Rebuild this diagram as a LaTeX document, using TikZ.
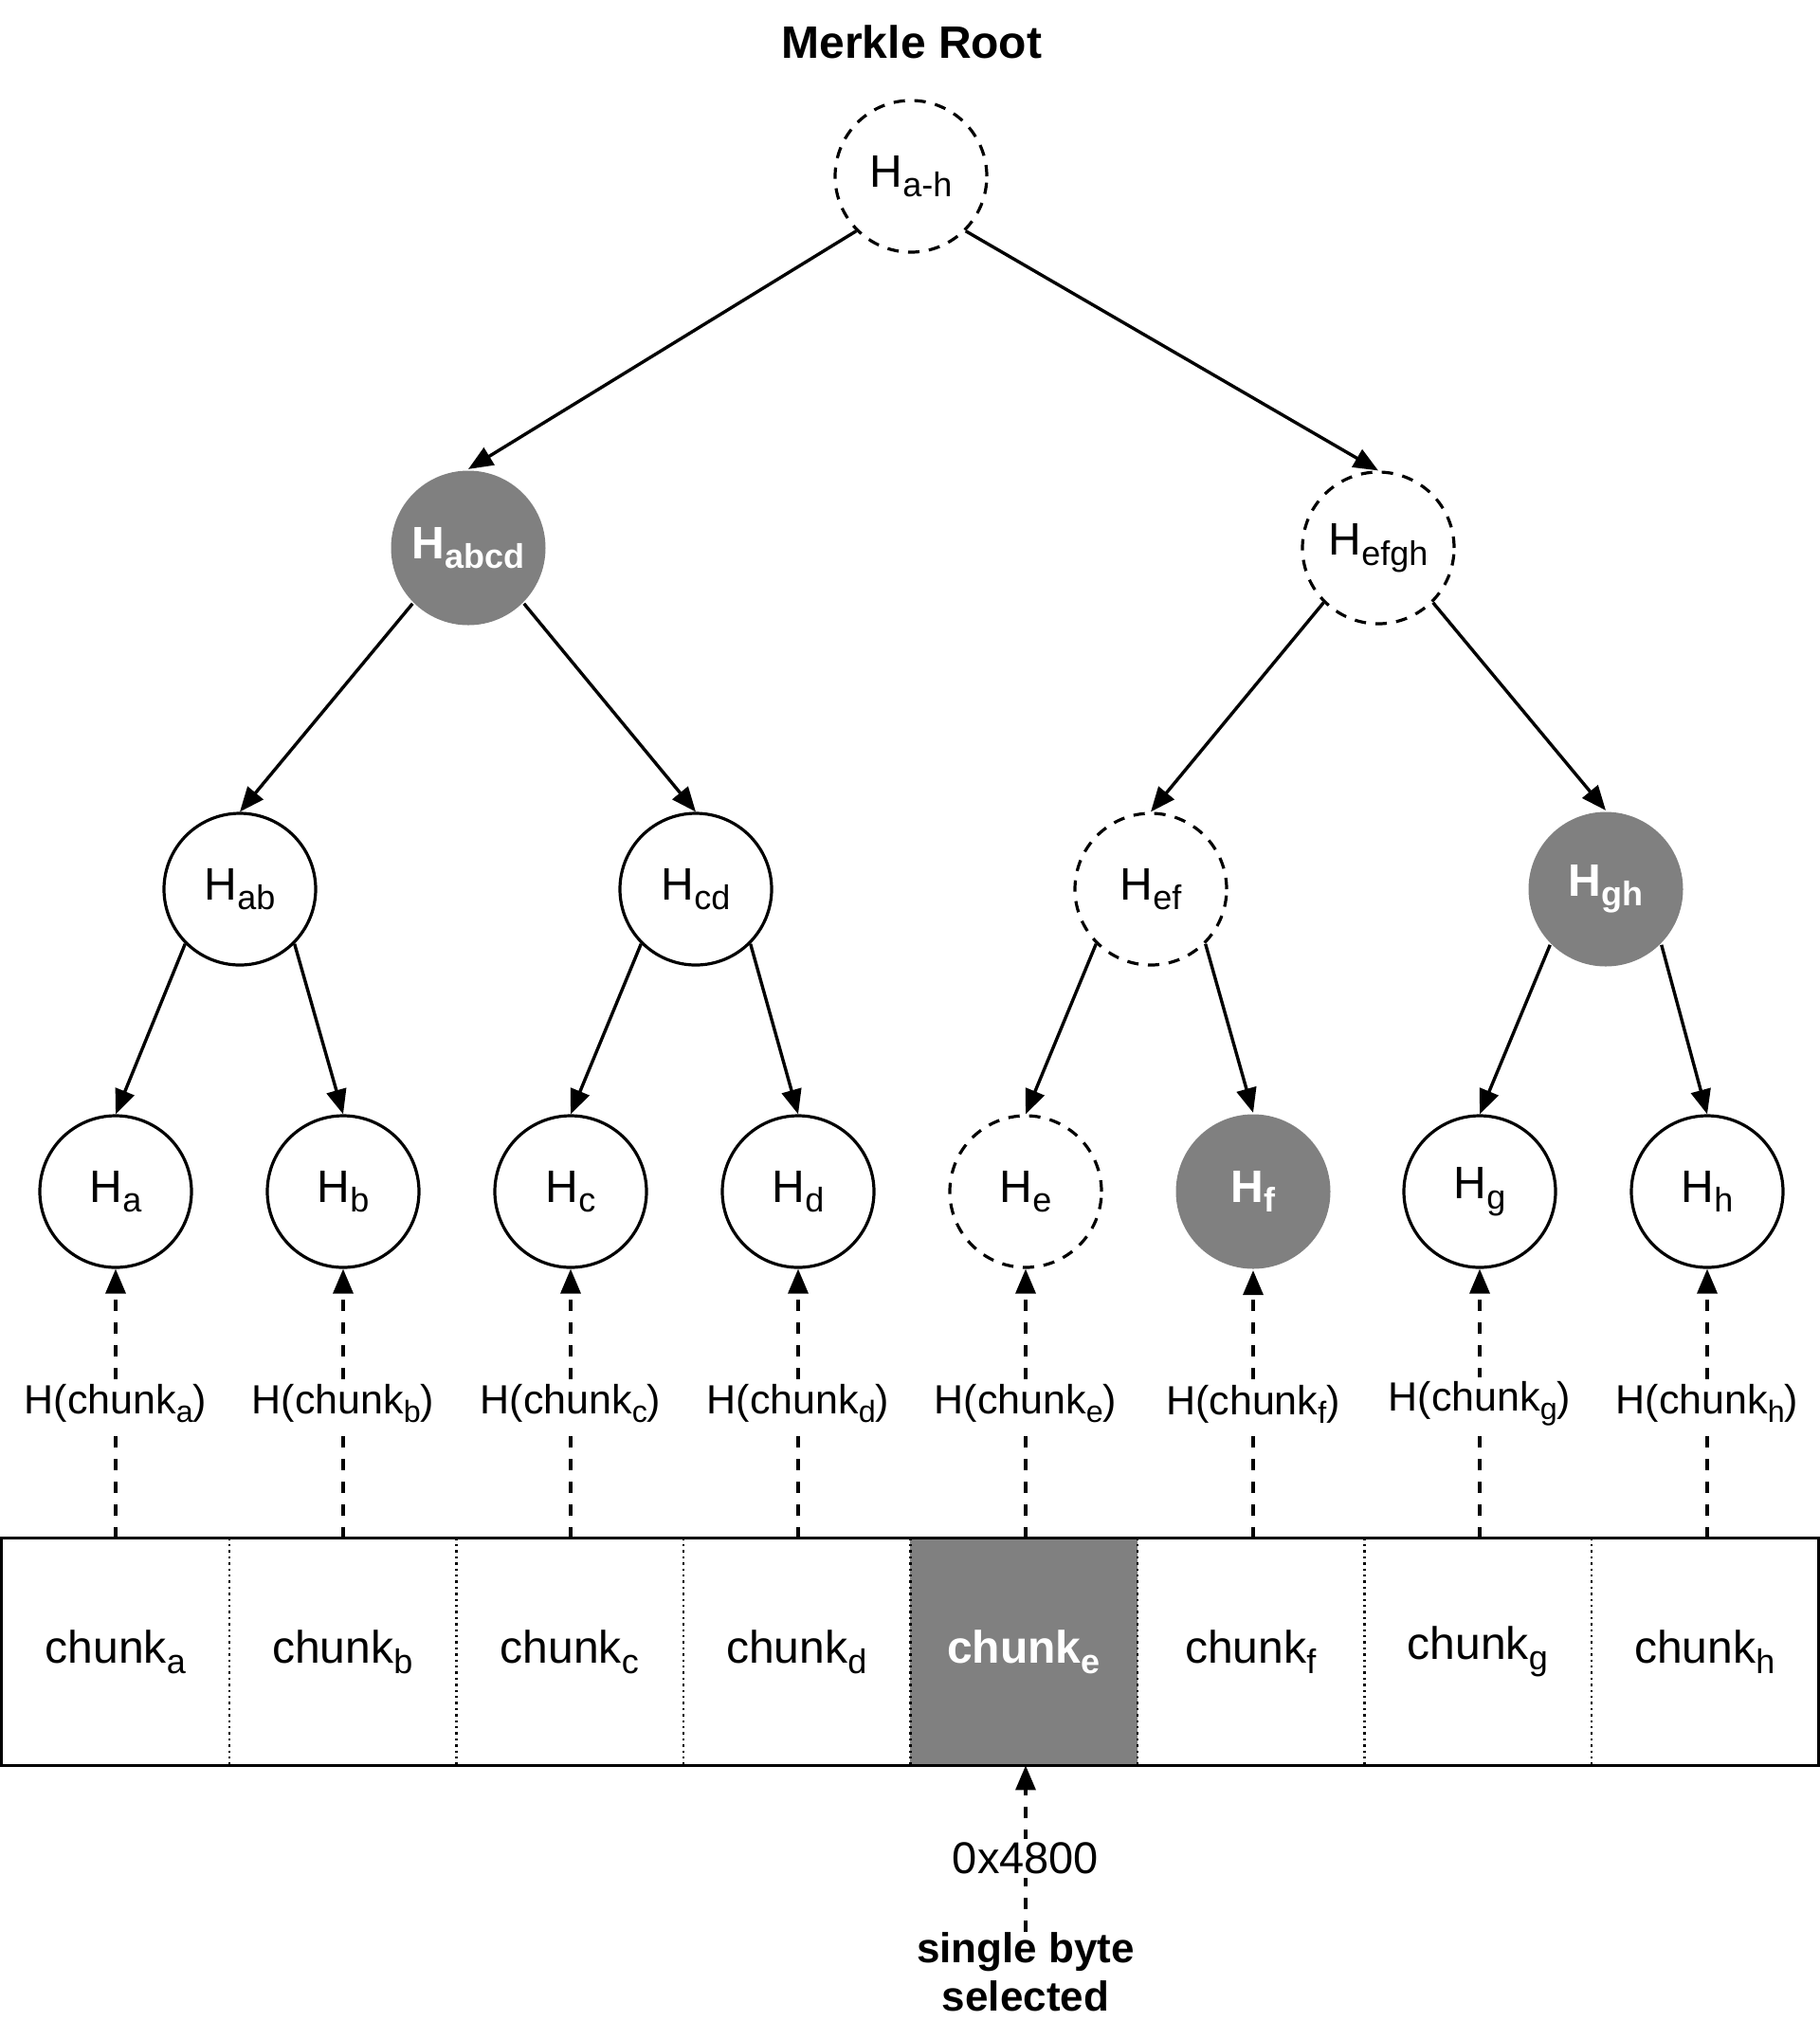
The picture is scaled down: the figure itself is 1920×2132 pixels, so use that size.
\documentclass[tikz,border=0pt]{standalone}
\usepackage{fontspec}
\setmainfont{Liberation Sans}
\usetikzlibrary{arrows.meta}
\definecolor{proofgray}{HTML}{808080}
% lowered, slightly reduced subscript
\newcommand{\lsub}[1]{\raisebox{-0.22em}{\scalebox{0.75}{#1}}}

\begin{document}
\begin{tikzpicture}[x=0.5pt,y=-0.5pt,
  hashnode/.style={circle, draw, line width=1.6pt, minimum size=80pt, inner sep=0pt,
    font=\fontsize{24}{28}\selectfont},
  pathnode/.style={hashnode, dash pattern=on 6pt off 5pt},
  proofnode/.style={hashnode, draw=none, fill=proofgray, text=white, minimum size=81.5pt,
    font=\fontsize{24}{28}\selectfont\bfseries},
  edge/.style={line width=1.7pt, -{Triangle[length=13pt,width=10.5pt]}},
  hashlink/.style={edge, dash pattern=on 6pt off 6pt},
  hashlabel/.style={fill=white, inner sep=2pt, font=\fontsize{21.5}{25}\selectfont},
  chunkcell/.style={rectangle, minimum width=119.75pt, minimum height=119.5pt, inner sep=0pt,
    font=\fontsize{24}{28}\selectfont},
]
\useasboundingbox (0,0) rectangle (1920,2132);

% title
\node[font=\fontsize{24}{28}\selectfont\bfseries] (title) at (962,44) {Merkle Root};

% internal hash nodes
\node[pathnode]  (root) at (961,186)  {H\lsub{a-h}};
\node[proofnode] (abcd) at (494,578)  {H\lsub{abcd}};
\node[pathnode]  (efgh) at (1454,578) {H\lsub{efgh}};
\node[hashnode]  (ab)   at (253,938)  {H\lsub{ab}};
\node[hashnode]  (cd)   at (734,938)  {H\lsub{cd}};
\node[pathnode]  (ef)   at (1214,938) {H\lsub{ef}};
\node[proofnode] (gh)   at (1694,938) {H\lsub{gh}};

% leaf hashes
\node[hashnode]  (la) at (122,1257)  {H\lsub{a}};
\node[hashnode]  (lb) at (362,1257)  {H\lsub{b}};
\node[hashnode]  (lc) at (602,1257)  {H\lsub{c}};
\node[hashnode]  (ld) at (842,1257)  {H\lsub{d}};
\node[pathnode]  (le) at (1082,1257) {H\lsub{e}};
\node[proofnode] (lf) at (1322,1257) {H\lsub{f}};
\node[hashnode]  (lg) at (1561,1257) {H\lsub{g}};
\node[hashnode]  (lh) at (1801,1257) {H\lsub{h}};

% tree edges
\draw[edge] (root.south west) -- (abcd.north);
\draw[edge] (root.south east) -- (efgh.north);
\draw[edge] (abcd.south west) -- (ab.north);
\draw[edge] (abcd.south east) -- (cd.north);
\draw[edge] (efgh.south west) -- (ef.north);
\draw[edge] (efgh.south east) -- (gh.north);
\draw[edge] (ab.south west) -- (la.north);
\draw[edge] (ab.south east) -- (lb.north);
\draw[edge] (cd.south west) -- (lc.north);
\draw[edge] (cd.south east) -- (ld.north);
\draw[edge] (ef.south west) -- (le.north);
\draw[edge] (ef.south east) -- (lf.north);
\draw[edge] (gh.south west) -- (lg.north);
\draw[edge] (gh.south east) -- (lh.north);

% data chunks
\foreach \l/\i in {a/0,b/1,c/2,d/3,f/5,g/6,h/7}
  \node[chunkcell] (c\l) at ({2+239.5*(\i+0.5)},1742.5) {chunk\lsub{\l}};
\node[chunkcell, fill=proofgray, text=white, font=\fontsize{24}{28}\selectfont\bfseries]
  (ce) at ({2+239.5*4.5},1742.5) {chunk\lsub{e}};
\foreach \l in {a,b,c,d,e,f,g}
  \draw[dotted, line width=1.2pt] (c\l.north east) -- (c\l.south east);
\draw[line width=1.6pt] (ca.north west) rectangle (ch.south east);

% chunk hashing
\draw[hashlink] (la |- ca.north) -- node[hashlabel] {H(chunk\lsub{a})} (la.south);
\draw[hashlink] (lb |- cb.north) -- node[hashlabel] {H(chunk\lsub{b})} (lb.south);
\draw[hashlink] (lc |- cc.north) -- node[hashlabel] {H(chunk\lsub{c})} (lc.south);
\draw[hashlink] (ld |- cd.north) -- node[hashlabel] {H(chunk\lsub{d})} (ld.south);
\draw[hashlink] (le |- ce.north) -- node[hashlabel] {H(chunk\lsub{e})} (le.south);
\draw[hashlink] (lf |- cf.north) -- node[hashlabel] {H(chunk\lsub{f})} (lf.south);
\draw[hashlink] (lg |- cg.north) -- node[hashlabel] {H(chunk\lsub{g})} (lg.south);
\draw[hashlink] (lh |- ch.north) -- node[hashlabel] {H(chunk\lsub{h})} (lh.south);

% selected byte
\node[font=\fontsize{22}{25.5}\selectfont\bfseries, align=center, inner sep=0pt, anchor=north]
  (sel) at (1082,2038) {single byte\\selected};
\draw[hashlink] (sel.north) -- node[pos=0.44, hashlabel, font=\fontsize{23.5}{27}\selectfont] {0x4800}
  (ce.south -| sel.north);
\end{tikzpicture}
\end{document}
